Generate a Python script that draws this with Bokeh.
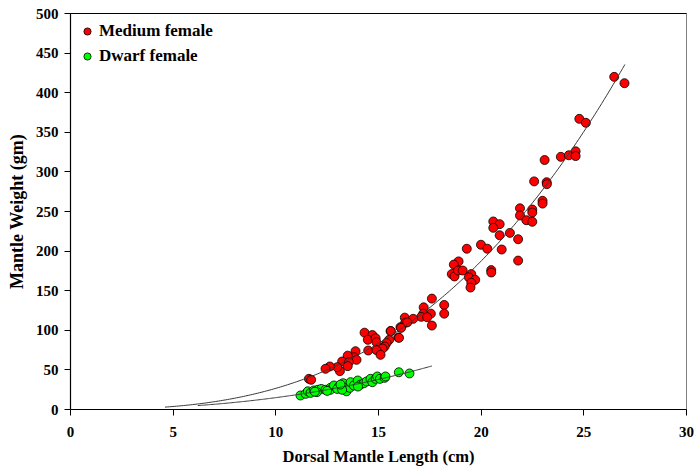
import numpy as np
from bokeh.plotting import figure
from bokeh.models import LinearAxis, Legend, LegendItem, FixedTicker
from bokeh.embed import file_html
from bokeh.resources import INLINE

# Medium female: dorsal mantle length (cm), mantle weight (gm)
medium_len = [26.48, 26.98, 24.78, 25.1, 23.09, 23.88, 24.27, 24.6, 24.6,
              22.58, 23.19, 23.2, 22.99, 22.99, 21.89, 22.49, 22.49, 21.89,
              22.2, 22.49, 20.59, 20.9, 20.59, 21.4, 20.9, 21.8, 19.99, 20.3,
              19.3, 21.0, 21.8, 18.9, 18.67, 18.57, 18.7, 18.87, 19.1, 19.52,
              19.4, 19.71, 19.52, 19.48, 20.49, 20.49, 17.6, 18.2, 18.2,
              17.2, 17.55, 17.18, 17.08, 17.37, 17.6, 16.28, 16.69, 16.3,
              16.07, 15.59, 15.96, 14.32, 14.7, 14.48, 14.86, 14.9, 15.52,
              15.39, 15.3, 15.2, 14.5, 14.9, 15.1, 13.88, 13.8, 13.5, 13.93,
              13.23, 13.56, 13.5, 13.12, 12.99, 12.63, 12.42, 11.61, 11.72,
              16.4, 16.1, 16.0, 15.6]
medium_wt = [420, 412, 367, 362, 315, 319, 321, 326, 320,
             288, 287, 284.5, 263.5, 260, 254, 252.5, 248.7, 245,
             239, 237, 237.4, 234, 229.4, 223, 220, 215, 208, 203,
             203, 202, 188, 187, 183, 171, 168, 175.5, 175.5, 171,
             167, 163.7, 160, 154, 176, 173, 140, 132, 121,
             129, 121, 121, 117, 116.5, 106, 116, 114.5, 109.5,
             104, 99, 91, 97, 94, 88, 90, 85, 88,
             84, 79.5, 77, 74.5, 75, 69, 73.6, 66, 68, 62.7,
             60.6, 59.7, 54.7, 48.4, 53.4, 54.3, 51.4, 38.7, 37.5,
             110, 103, 90.5, 99]

# Dwarf female
dwarf_len = [11.2, 11.45, 11.56, 11.69, 11.85, 12.05, 12.21, 12.0, 12.42,
             12.66, 12.66, 12.83, 13.07, 12.99, 13.28, 13.4, 13.44, 13.6,
             13.64, 13.8, 13.99, 14.13, 14.29, 14.42, 14.61, 14.7, 14.86,
             14.94, 15.07, 15.3, 15.34, 15.99, 16.51, 13.23, 12.5, 11.9,
             13.15, 14.0]
dwarf_wt = [17.7, 19.8, 23, 21, 24, 24.9, 26, 21.9, 24.9,
            27.4, 24.9, 30.3, 29, 26, 33.2, 27.4, 23, 27.4,
            34.5, 30.3, 36.6, 31.6, 33.2, 35.4, 38.7, 34.5, 38.7,
            41.7, 38.7, 40, 41.7, 47, 45.5, 24.9, 23.5, 22.5,
            31.5, 29.0]

# Fitted power curves W = a * L^b
medium_fit = dict(a=0.0414, b=2.81, lo=4.6, hi=27.0)
dwarf_fit = dict(a=0.075, b=2.30, lo=6.2, hi=17.6)

x_ticks = [0, 5, 10, 15, 20, 25, 30]
y_ticks = [0, 50, 100, 150, 200, 250, 300, 350, 400, 450, 500]

FONT = "Liberation Serif"

p = figure(width=694, height=468, output_backend="svg", toolbar_location=None,
           x_range=(0, 30), y_range=(0, 500),
           min_border_left=70, min_border_right=8, min_border_top=13,
           min_border_bottom=59)
p.grid.visible = False
p.outline_line_color = "#808080"
p.outline_line_width = 1
p.background_fill_color = "white"
p.border_fill_color = "white"

r_med = p.scatter(medium_len, medium_wt, size=9, fill_color="#FF0000",
                  line_color="black", line_width=0.8)
r_dw = p.scatter(dwarf_len, dwarf_wt, size=9, fill_color="#00FF00",
                 line_color="black", line_width=0.8)

for f in (medium_fit, dwarf_fit):
    xs = np.linspace(f["lo"], f["hi"], 200)
    p.line(xs, f["a"] * xs ** f["b"], line_color="#3a3a3a", line_width=1)

for ax, ticks in ((p.xaxis[0], x_ticks), (p.yaxis[0], y_ticks)):
    ax.ticker = FixedTicker(ticks=ticks)
    ax.minor_tick_line_color = None
    ax.major_tick_in = 0
    ax.major_tick_out = 6
    ax.axis_line_color = "black"
    ax.axis_line_width = 1.2
    ax.major_tick_line_color = "black"
    ax.major_label_text_font = FONT
    ax.major_label_text_font_style = "bold"
    ax.major_label_text_font_size = "15px"
    ax.major_label_text_color = "black"
    ax.axis_label_text_font = FONT
    ax.axis_label_text_font_style = "bold"
    ax.axis_label_text_color = "black"

p.xaxis.axis_label = "Dorsal Mantle Length (cm)"
p.yaxis.axis_label = "Mantle Weight (gm)"
p.xaxis.axis_label_text_font_size = "16.5px"
p.yaxis.axis_label_text_font_size = "18px"
p.xaxis.major_label_standoff = 11
p.xaxis.axis_label_standoff = 7
p.yaxis.major_label_standoff = 6
p.yaxis.axis_label_standoff = 6

top = LinearAxis(ticker=FixedTicker(ticks=[]), major_label_text_font_size="0px",
                 axis_line_color="black", axis_line_width=1.2,
                 major_tick_line_color=None, minor_tick_line_color=None)
p.add_layout(top, "above")

legend = Legend(items=[LegendItem(label="Medium female", renderers=[r_med]),
                       LegendItem(label="Dwarf female", renderers=[r_dw])],
                location="top_left")
legend.border_line_color = None
legend.background_fill_alpha = 0
legend.label_text_font = FONT
legend.label_text_font_style = "bold"
legend.label_text_font_size = "17px"
legend.label_text_color = "black"
legend.glyph_width = 18
legend.glyph_height = 18
legend.label_height = 20
legend.spacing = 5
legend.margin = 8
legend.padding = 4
legend.label_standoff = 3
p.add_layout(legend)

open("out.html", "w").write(file_html(p, INLINE))
